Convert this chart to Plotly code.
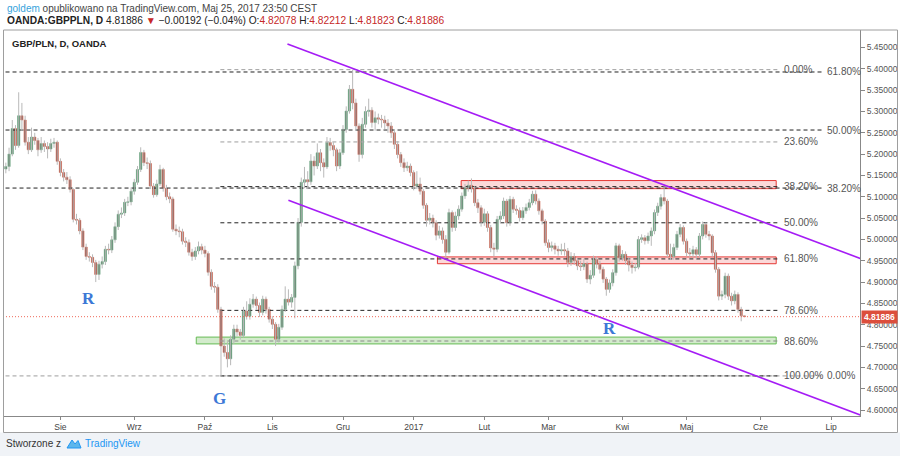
import plotly.graph_objects as go
import pandas as pd

# ---------------- data (daily GBP/PLN, OANDA) ----------------
first_bar = 4  # position of first visible bar in the business-day calendar

opens = [
    5.165, 5.171, 5.200, 5.260, 5.220, 5.290, 5.280, 5.228, 5.210, 5.240,
    5.232, 5.210, 5.225, 5.218, 5.212, 5.225, 5.228, 5.183, 5.157, 5.146,
    5.140, 5.117, 5.047, 5.045, 5.020, 4.982, 4.960, 4.958, 4.946, 4.918,
    4.942, 4.948, 4.977, 4.975, 4.999, 5.030, 5.059, 5.062, 5.087, 5.088,
    5.113, 5.134, 5.164, 5.204, 5.180, 5.178, 5.125, 5.105, 5.130, 5.164,
    5.120, 5.100, 5.095, 5.024, 5.020, 5.018, 4.996, 4.993, 4.970, 4.960,
    4.973, 4.983, 4.975, 4.967, 4.923, 4.890, 4.888, 4.836, 4.750, 4.735,
    4.720, 4.766, 4.790, 4.783, 4.775, 4.832, 4.820, 4.848, 4.860, 4.845,
    4.829, 4.860, 4.836, 4.813, 4.801, 4.766, 4.794, 4.836, 4.860, 4.853,
    4.864, 4.938, 5.040, 5.134, 5.140, 5.135, 5.184, 5.172, 5.203, 5.180,
    5.170, 5.227, 5.220, 5.210, 5.172, 5.203, 5.258, 5.301, 5.352, 5.320,
    5.266, 5.199, 5.270, 5.300, 5.303, 5.274, 5.285, 5.282, 5.280, 5.273,
    5.266, 5.250, 5.223, 5.199, 5.180, 5.168, 5.172, 5.157, 5.125, 5.130,
    5.113, 5.080, 5.045, 5.050, 5.039, 5.010, 5.020, 5.000, 4.970, 5.063,
    5.028, 5.055, 5.071, 5.102, 5.121, 5.127, 5.119, 5.086, 5.074, 5.040,
    5.060, 5.028, 4.980, 4.977, 5.047, 5.055, 5.090, 5.039, 5.094, 5.071,
    5.068, 5.051, 5.067, 5.075, 5.086, 5.106, 5.090, 5.067, 5.043, 4.992,
    4.981, 4.985, 4.977, 4.973, 4.976, 4.973, 4.946, 4.960, 4.950, 4.938,
    4.936, 4.943, 4.907, 4.916, 4.953, 4.942, 4.930, 4.907, 4.883, 4.898,
    4.922, 4.985, 4.957, 4.965, 4.950, 4.940, 4.934, 4.935, 5.000, 5.004,
    4.997, 5.008, 5.020, 5.063, 5.078, 5.098, 5.090, 4.965, 4.960, 4.981,
    5.012, 5.028, 4.996, 4.969, 4.966, 4.976, 4.965, 5.008, 5.035, 5.012,
    5.008, 4.969, 4.930, 4.867, 4.871, 4.914, 4.867, 4.856, 4.871, 4.836,
    4.82078,
]
highs = [
    5.180, 5.215, 5.280, 5.268, 5.345, 5.320, 5.290, 5.240, 5.262, 5.250,
    5.238, 5.240, 5.232, 5.228, 5.236, 5.238, 5.232, 5.190, 5.165, 5.158,
    5.148, 5.120, 5.060, 5.050, 5.026, 4.990, 4.970, 4.965, 4.952, 4.950,
    4.960, 4.985, 4.990, 5.008, 5.040, 5.068, 5.075, 5.095, 5.100, 5.122,
    5.142, 5.172, 5.216, 5.210, 5.192, 5.185, 5.132, 5.140, 5.175, 5.168,
    5.128, 5.110, 5.100, 5.035, 5.030, 5.025, 5.005, 5.000, 4.978, 4.982,
    4.995, 4.990, 4.985, 4.972, 4.930, 4.900, 4.895, 4.842, 4.768, 4.760,
    4.775, 4.800, 4.800, 4.790, 4.842, 4.855, 4.862, 4.872, 4.866, 4.852,
    4.868, 4.866, 4.842, 4.820, 4.806, 4.802, 4.845, 4.890, 4.883, 4.872,
    4.948, 5.050, 5.145, 5.170, 5.160, 5.200, 5.195, 5.225, 5.212, 5.190,
    5.240, 5.238, 5.228, 5.215, 5.212, 5.268, 5.312, 5.362, 5.398, 5.330,
    5.272, 5.285, 5.312, 5.330, 5.310, 5.300, 5.295, 5.292, 5.290, 5.282,
    5.275, 5.258, 5.230, 5.205, 5.190, 5.182, 5.178, 5.162, 5.160, 5.145,
    5.118, 5.085, 5.062, 5.058, 5.045, 5.032, 5.028, 5.010, 5.072, 5.068,
    5.065, 5.080, 5.110, 5.130, 5.138, 5.143, 5.125, 5.095, 5.080, 5.072,
    5.066, 5.034, 4.992, 5.055, 5.066, 5.098, 5.095, 5.102, 5.100, 5.080,
    5.075, 5.076, 5.084, 5.095, 5.114, 5.115, 5.096, 5.072, 5.048, 5.000,
    4.995, 4.992, 4.985, 4.990, 4.992, 4.980, 4.970, 4.968, 4.955, 4.950,
    4.955, 4.948, 4.928, 4.962, 4.960, 4.950, 4.936, 4.912, 4.906, 4.930,
    4.992, 4.990, 4.975, 4.972, 4.958, 4.948, 4.945, 5.008, 5.012, 5.010,
    5.016, 5.028, 5.070, 5.086, 5.106, 5.129, 5.095, 4.990, 4.990, 5.020,
    5.036, 5.033, 5.002, 4.980, 4.985, 4.982, 5.015, 5.042, 5.040, 5.020,
    5.012, 4.975, 4.935, 4.880, 4.922, 4.920, 4.875, 4.880, 4.876, 4.842,
    4.82212,
]
lows = [
    5.155, 5.160, 5.195, 5.210, 5.215, 5.255, 5.220, 5.200, 5.205, 5.222,
    5.195, 5.203, 5.205, 5.190, 5.205, 5.215, 5.175, 5.148, 5.136, 5.130,
    5.110, 5.040, 5.035, 5.012, 4.975, 4.952, 4.948, 4.935, 4.900, 4.905,
    4.932, 4.940, 4.965, 4.968, 4.992, 5.022, 5.050, 5.055, 5.078, 5.080,
    5.105, 5.128, 5.158, 5.172, 5.165, 5.118, 5.098, 5.100, 5.125, 5.112,
    5.092, 5.085, 5.018, 5.010, 5.005, 4.988, 4.982, 4.962, 4.950, 4.952,
    4.965, 4.965, 4.958, 4.915, 4.882, 4.875, 4.828, 4.680, 4.725, 4.700,
    4.705, 4.755, 4.772, 4.765, 4.770, 4.812, 4.812, 4.840, 4.835, 4.818,
    4.822, 4.826, 4.805, 4.790, 4.750, 4.758, 4.788, 4.830, 4.845, 4.840,
    4.815, 4.930, 5.030, 5.120, 5.118, 5.128, 5.150, 5.165, 5.160, 5.145,
    5.165, 5.208, 5.195, 5.160, 5.165, 5.198, 5.250, 5.295, 5.305, 5.255,
    5.182, 5.190, 5.262, 5.288, 5.262, 5.255, 5.270, 5.262, 5.258, 5.250,
    5.238, 5.212, 5.190, 5.170, 5.158, 5.160, 5.148, 5.115, 5.118, 5.105,
    5.072, 5.030, 5.035, 5.028, 4.998, 5.002, 4.990, 4.957, 4.965, 5.018,
    5.020, 5.046, 5.065, 5.095, 5.112, 5.110, 5.078, 5.062, 5.030, 5.032,
    5.018, 4.970, 4.960, 4.970, 5.038, 5.048, 5.030, 5.032, 5.062, 5.058,
    5.042, 5.045, 5.060, 5.068, 5.080, 5.082, 5.058, 5.035, 4.985, 4.970,
    4.972, 4.965, 4.962, 4.964, 4.962, 4.935, 4.938, 4.940, 4.928, 4.926,
    4.928, 4.898, 4.895, 4.910, 4.932, 4.920, 4.898, 4.868, 4.875, 4.890,
    4.915, 4.948, 4.950, 4.940, 4.925, 4.920, 4.925, 4.930, 4.992, 4.988,
    4.990, 4.985, 5.012, 5.055, 5.070, 5.082, 4.958, 4.952, 4.952, 4.975,
    5.005, 4.988, 4.960, 4.958, 4.958, 4.955, 4.958, 5.000, 5.004, 4.998,
    4.960, 4.922, 4.857, 4.858, 4.862, 4.858, 4.845, 4.848, 4.828, 4.808,
    4.81823,
]
closes = [
    5.171, 5.200, 5.260, 5.220, 5.290, 5.280, 5.228, 5.210, 5.240, 5.232,
    5.210, 5.225, 5.218, 5.212, 5.225, 5.228, 5.183, 5.157, 5.146, 5.140,
    5.117, 5.047, 5.045, 5.020, 4.982, 4.960, 4.958, 4.946, 4.918, 4.942,
    4.948, 4.977, 4.975, 4.999, 5.030, 5.059, 5.062, 5.087, 5.088, 5.113,
    5.134, 5.164, 5.204, 5.180, 5.178, 5.125, 5.105, 5.130, 5.164, 5.120,
    5.100, 5.095, 5.024, 5.020, 5.018, 4.996, 4.993, 4.970, 4.960, 4.973,
    4.983, 4.975, 4.967, 4.923, 4.890, 4.888, 4.836, 4.750, 4.735, 4.720,
    4.766, 4.790, 4.783, 4.775, 4.832, 4.820, 4.848, 4.860, 4.845, 4.829,
    4.860, 4.836, 4.813, 4.801, 4.766, 4.794, 4.836, 4.860, 4.853, 4.864,
    4.938, 5.040, 5.134, 5.140, 5.135, 5.184, 5.172, 5.203, 5.180, 5.170,
    5.227, 5.220, 5.210, 5.172, 5.203, 5.258, 5.301, 5.352, 5.320, 5.266,
    5.199, 5.270, 5.300, 5.303, 5.274, 5.285, 5.282, 5.280, 5.273, 5.266,
    5.250, 5.223, 5.199, 5.180, 5.168, 5.172, 5.157, 5.125, 5.130, 5.113,
    5.080, 5.045, 5.050, 5.039, 5.010, 5.020, 5.000, 4.970, 5.063, 5.028,
    5.055, 5.071, 5.102, 5.121, 5.127, 5.119, 5.086, 5.074, 5.040, 5.060,
    5.028, 4.980, 4.977, 5.047, 5.055, 5.090, 5.039, 5.094, 5.071, 5.068,
    5.051, 5.067, 5.075, 5.086, 5.106, 5.090, 5.067, 5.043, 4.992, 4.981,
    4.985, 4.977, 4.973, 4.976, 4.973, 4.946, 4.960, 4.950, 4.938, 4.936,
    4.943, 4.907, 4.916, 4.953, 4.942, 4.930, 4.907, 4.883, 4.898, 4.922,
    4.985, 4.957, 4.965, 4.950, 4.940, 4.934, 4.935, 5.000, 5.004, 4.997,
    5.008, 5.020, 5.063, 5.078, 5.098, 5.090, 4.965, 4.960, 4.981, 5.012,
    5.028, 4.996, 4.969, 4.966, 4.976, 4.965, 5.008, 5.035, 5.012, 5.008,
    4.969, 4.930, 4.867, 4.871, 4.914, 4.867, 4.856, 4.871, 4.836, 4.82078,
    4.81886,
]
assert len(opens) == len(highs) == len(lows) == len(closes)

month_labels = ["Sie", "Wrz", "Paź", "Lis", "Gru", "2017", "Lut", "Mar", "Kwi", "Maj", "Cze", "Lip"]
price_ticks = [4.60, 4.65, 4.70, 4.75, 4.80, 4.85, 4.90, 4.95, 5.00, 5.05, 5.10,
               5.15, 5.20, 5.25, 5.30, 5.35, 5.40, 5.45]

# drawings (x in bar positions, y in price)
channel_upper_x = [91.7, 272.0]
channel_upper_y = [5.458, 4.950]
channel_lower_x = [92.0, 272.0]
channel_lower_y = [5.092, 4.583]

fibA_x = [70.8, 245.1]            # retracement: Dec high -> Oct low
fibA_p0, fibA_p100 = 5.398, 4.680
fibA_levels = [0.0, 0.236, 0.382, 0.5, 0.618, 0.786, 0.886, 1.0]
fibA_colors = ["#9e9e9e", "#9e9e9e", "#222222", "#222222", "#222222", "#222222", "#8a8a8a", "#222222"]

fibB_x = [3.9, 258.2]             # second fib anchored at the Oct low
fibB_p0, fibB_p100 = 4.680, 5.833
fibB_levels = [0.0, 0.382, 0.5, 0.618]
fibB_colors = ["#9e9e9e", "#222222", "#222222", "#222222"]

zones = [  # x0, x1, y0, y1, line, fill
    (145.8, 243.9, 5.119, 5.138, "#e53935", "rgba(239,83,80,0.22)"),
    (138.4, 243.9, 4.943, 4.959, "#e53935", "rgba(239,83,80,0.22)"),
    (63.3, 243.9, 4.755, 4.771, "#66bb55", "rgba(129,199,110,0.35)"),
]
labels_R = [(29.7, 4.862, "R"), (191.9, 4.790, "R"), (70.5, 4.628, "G")]

# ---------------- geometry helpers ----------------
W, H = 900, 456
def px(x):
    return x / W
def py(y):
    return 1 - y / H

calendar = pd.bdate_range("2016-07-01", "2017-07-31")
bar_x = list(range(first_bar, first_bar + len(closes)))
month_starts = pd.date_range("2016-08-01", periods=len(month_labels), freq="MS")
tick_idx = [int(calendar.searchsorted(d)) for d in month_starts]

fig = go.Figure()

# zones (rectangles)
for x0, x1, y0, y1, lc, fc in zones:
    fig.add_shape(type="rect", xref="x", yref="y", x0=x0, x1=x1, y0=y0, y1=y1,
                  line=dict(color=lc, width=1), fillcolor=fc, layer="below")

# fib lines
def fib_price(p0, p100, lv):
    return p0 + (p100 - p0) * lv

for lv, col in zip(fibB_levels, fibB_colors):
    p = fib_price(fibB_p0, fibB_p100, lv)
    fig.add_trace(go.Scatter(x=fibB_x, y=[p, p], mode="lines",
                             line=dict(color=col, width=1, dash="4px,3px"), hoverinfo="skip"))
for lv, col in zip(fibA_levels, fibA_colors):
    p = fib_price(fibA_p0, fibA_p100, lv)
    fig.add_trace(go.Scatter(x=fibA_x, y=[p, p], mode="lines",
                             line=dict(color=col, width=1, dash="4px,3px"), hoverinfo="skip"))

# wicks
wx, wy = [], []
for xi, lo, hi in zip(bar_x, lows, highs):
    wx += [xi, xi, None]
    wy += [lo, hi, None]
fig.add_trace(go.Scatter(x=wx, y=wy, mode="lines", line=dict(color="#b9b9b9", width=1),
                         hoverinfo="skip"))

# bodies
min_h = 0.0016
bases, heights, fills, edges = [], [], [], []
for o, c in zip(opens, closes):
    lo, hi = min(o, c), max(o, c)
    h = hi - lo
    if h < min_h:
        lo -= (min_h - h) / 2
        h = min_h
    bases.append(lo)
    heights.append(h)
    up = c >= o
    fills.append("#2f6e45" if up else "#8c2a1f")
    edges.append("#74ad8a" if up else "#d4735f")
fig.add_trace(go.Bar(x=bar_x, y=heights, base=bases, width=0.7,
                     marker=dict(color=fills, line=dict(color=edges, width=0.6)),
                     hoverinfo="skip"))

# channel
fig.add_trace(go.Scatter(x=channel_upper_x, y=channel_upper_y, mode="lines",
                         line=dict(color="#a51cf5", width=1.6), hoverinfo="skip"))
fig.add_trace(go.Scatter(x=channel_lower_x, y=channel_lower_y, mode="lines",
                         line=dict(color="#a51cf5", width=1.6), hoverinfo="skip"))

# last price dotted line
last = closes[-1]
fig.add_shape(type="line", xref="paper", yref="y", x0=px(3), x1=px(860), y0=last, y1=last,
              line=dict(color="#ef6a5a", width=1, dash="1px,2px"))

ann = []
# fib labels
for lv in fibA_levels:
    p = fib_price(fibA_p0, fibA_p100, lv)
    ann.append(dict(x=fibA_x[1] + 0.7, y=p, xref="x", yref="y", text=f"{lv*100:.2f}%",
                    showarrow=False, xanchor="left", yanchor="middle",
                    font=dict(size=10, color="#555555")))
for lv in fibB_levels:
    p = fib_price(fibB_p0, fibB_p100, lv)
    ann.append(dict(x=fibB_x[1] + 1.0, y=p, xref="x", yref="y", text=f"{lv*100:.2f}%",
                    showarrow=False, xanchor="left", yanchor="middle",
                    font=dict(size=10, color="#555555")))
# R / G labels
for xi, yi, t in labels_R:
    ann.append(dict(x=xi, y=yi, xref="x", yref="y", text=f"<b>{t}</b>", showarrow=False,
                    font=dict(size=17, color="#3d78d6", family="Liberation Serif, DejaVu Serif, serif")))

# last price box on axis
ann.append(dict(x=px(860.5), y=last, xref="paper", yref="y", text=f"<b>{last:.5f}</b>",
                showarrow=False, xanchor="left", yanchor="middle", width=33, align="center",
                bgcolor="#dc4e3c", borderpad=1, font=dict(size=8.5, color="white")))

# header
red = "#c62828"
chg = closes[-1] - closes[-2]
pct = chg / closes[-2] * 100
line1 = '<span style="color:#36a3dc">goldem</span> opublikowano na TradingView.com, Maj 25, 2017 23:50 CEST'
line2 = (f'<b>OANDA:GBPPLN, D</b> {last:.5f} <span style="color:{red}">▼</span> '
         f'−{abs(chg):.5f} (−{abs(pct):.2f}%) '
         f'O:<span style="color:{red}">{opens[-1]:.5f}</span> '
         f'H:<span style="color:{red}">{highs[-1]:.5f}</span> '
         f'L:<span style="color:{red}">{lows[-1]:.5f}</span> '
         f'C:<span style="color:{red}">{last:.5f}</span>')
ann.append(dict(x=px(5), y=py(8), xref="paper", yref="paper", text=line1, showarrow=False,
                xanchor="left", yanchor="middle", font=dict(size=10, color="#444444")))
ann.append(dict(x=px(5), y=py(20.5), xref="paper", yref="paper", text=line2, showarrow=False,
                xanchor="left", yanchor="middle", font=dict(size=10.2, color="#222222")))
ann.append(dict(x=px(10), y=py(43), xref="paper", yref="paper", text="<b>GBP/PLN, D, OANDA</b>",
                showarrow=False, xanchor="left", yanchor="middle", font=dict(size=9.5, color="#222222")))
# footer
ann.append(dict(x=px(4), y=py(443.5), xref="paper", yref="paper", text="Stworzone z",
                showarrow=False, xanchor="left", yanchor="middle", font=dict(size=10, color="#333333")))
ann.append(dict(x=px(83), y=py(443.5), xref="paper", yref="paper", text="TradingView",
                showarrow=False, xanchor="left", yanchor="middle", font=dict(size=10, color="#2196f3")))

shapes_extra = [
    dict(type="rect", xref="paper", yref="paper", x0=0, x1=1, y0=0, y1=py(432.5),
         fillcolor="#f0f3f7", line=dict(width=0), layer="below"),
    dict(type="rect", xref="paper", yref="paper", x0=px(3.5), x1=px(897.5), y0=py(432.5), y1=py(30),
         line=dict(color="#9e9e9e", width=1), fillcolor="rgba(0,0,0,0)"),
    dict(type="path", xref="paper", yref="paper",
         path=(f"M {px(67)},{py(448)} L {px(72)},{py(440)} L {px(75)},{py(444)} "
               f"L {px(78)},{py(440.5)} L {px(81)},{py(448)} Z"),
         fillcolor="#5db6ec", line=dict(color="#2196f3", width=1)),
]
for s in shapes_extra:
    fig.add_shape(**s)

fig.update_layout(
    width=W, height=H, margin=dict(l=0, r=0, t=0, b=0),
    paper_bgcolor="white", plot_bgcolor="white", showlegend=False, hovermode=False,
    annotations=ann,
    font=dict(family="Liberation Sans, Arial, sans-serif"),
    xaxis=dict(domain=[px(3.5), px(860)], range=[3.27, 270.0], showgrid=False, zeroline=False,
               tickmode="array", tickvals=tick_idx, ticktext=month_labels,
               ticks="outside", ticklen=3, tickcolor="#888", showline=True, linecolor="#888",
               tickfont=dict(size=8.5, color="#444")),
    yaxis=dict(domain=[py(416), py(30)], range=[4.586, 5.491], side="right", showgrid=False,
               zeroline=False, tickmode="array", tickvals=price_ticks, tickformat=".5f",
               ticks="outside", ticklen=4, tickcolor="#888", showline=True, linecolor="#888",
               tickfont=dict(size=8.5, color="#555")),
)

fig.write_html("out.html")
